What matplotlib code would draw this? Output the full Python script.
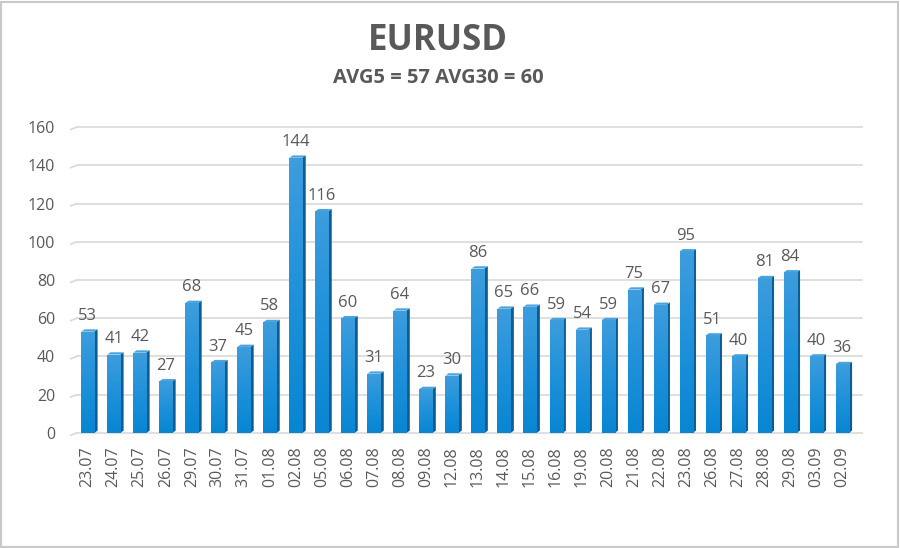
import numpy as np
import matplotlib
matplotlib.use('Agg')
import matplotlib.pyplot as plt
from matplotlib.patches import Polygon, Rectangle
from matplotlib.colors import LinearSegmentedColormap

# data
dates = ['23.07', '24.07', '25.07', '26.07', '29.07', '30.07', '31.07', '01.08',
         '02.08', '05.08', '06.08', '07.08', '08.08', '09.08', '12.08', '13.08',
         '14.08', '15.08', '16.08', '19.08', '20.08', '21.08', '22.08', '23.08',
         '26.08', '27.08', '28.08', '29.08', '03.09', '02.09']
values = [53, 41, 42, 27, 68, 37, 45, 58, 144, 116, 60, 31, 64, 23, 30, 86,
          65, 66, 59, 54, 59, 75, 67, 95, 51, 40, 81, 84, 40, 36]
yticks = [0, 20, 40, 60, 80, 100, 120, 140, 160]

plt.rcParams['font.family'] = ['Open Sans', 'DejaVu Sans']
txtcol = '#595959'

fig = plt.figure(figsize=(9, 5.48), dpi=100)
fig.patch.set_facecolor('white')
fig.patches.append(Rectangle((0.001, 0.002), 0.997, 0.995, transform=fig.transFigure,
                             fill=False, edgecolor='#c8c8c8', linewidth=1.5))

ax = fig.add_axes([0.083, 0.21, 0.873, 0.558])
x = np.arange(len(values))
w = 0.5
dx = 0.13   # depth of the fake 3d side
dy = 1.2

# gridlines with a small slanted start (3d back wall look)
for t in yticks:
    ax.plot([-0.42, 29.75], [t, t], color='#d9d9d9', lw=1.2, zorder=0, clip_on=False)
    ax.plot([-0.65, -0.42], [t - 1.2, t], color='#d9d9d9', lw=1.2, zorder=0, clip_on=False)

grad = np.linspace(0, 1, 64).reshape(-1, 1)
cmap = LinearSegmentedColormap.from_list('b', ['#0886d2', '#1f91da', '#3d9ddd'])
for xi, v in zip(x, values):
    # side face
    side = Polygon([[xi + w / 2, 0], [xi + w / 2 + dx, dy], [xi + w / 2 + dx, v + dy],
                    [xi + w / 2, v]], closed=True, facecolor='#0c5d96', edgecolor='none', zorder=2)
    ax.add_patch(side)
    top = Polygon([[xi - w / 2, v], [xi - w / 2 + dx, v + dy], [xi + w / 2 + dx, v + dy],
                   [xi + w / 2, v]], closed=True, facecolor='#4aa3de', edgecolor='none', zorder=2)
    ax.add_patch(top)
    bar = ax.bar(xi, v, width=w, color='#1a8dd6', zorder=3)[0]
    im = ax.imshow(grad, extent=[xi - w / 2, xi + w / 2, 0, v], origin='lower',
                   cmap=cmap, aspect='auto', zorder=3.5)
    im.set_clip_path(bar)
    ax.text(xi, v + 4, str(v), ha='center', va='bottom', fontsize=12, color=txtcol)

ax.set_xlim(-0.5, 29.7)
ax.set_ylim(0, 160)
ax.set_xticks(x)
ax.set_xticklabels(dates, rotation=90, fontsize=11.5, color=txtcol)
ax.set_yticks(yticks)
ax.set_yticklabels([str(t) for t in yticks], fontsize=11.5, color=txtcol)
ax.tick_params(length=0, pad=14)
ax.tick_params(axis='x', pad=10)
for s in ax.spines.values():
    s.set_visible(False)
ax.set_facecolor('none')

fig.text(0.487, 0.925, 'EURUSD', ha='center', va='center', fontsize=25, fontweight='bold',
         color=txtcol)
fig.text(0.487, 0.857, 'AVG5 = 57 AVG30 = 60', ha='center', va='center', fontsize=14.5,
         fontweight='bold', color=txtcol)

plt.savefig('out.png', dpi=100)
